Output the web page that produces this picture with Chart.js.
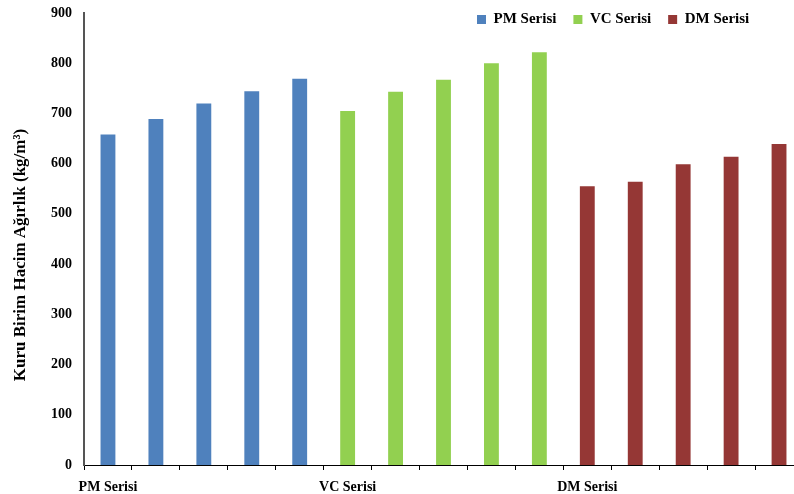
<!DOCTYPE html>
<html>
<head>
<meta charset="utf-8">
<script src="https://cdn.jsdelivr.net/npm/chart.js@4/dist/chart.umd.min.js"></script>
<style>
  html, body { margin: 0; padding: 0; background: #fff; overflow: hidden; }
  #wrap { width: 806px; height: 494px; position: relative; }
</style>
</head>
<body>
<div id="wrap"><canvas id="c" width="806" height="494"></canvas></div>
<script>
// Category axis: one slot per sample, group name under the first of each group
const categories = ['PM Serisi', '', '', '', '', 'VC Serisi', '', '', '', '', 'DM Serisi', '', '', '', ''];
const seriesNames = ['PM Serisi', 'VC Serisi', 'DM Serisi'];
// Dry unit weight values (kg/m³)
const pmValues = [658, 689, 720, 744, 769];
const vcValues = [705, 743, 767, 800, 822];
const dmValues = [555, 564, 599, 614, 639];
const yTicks = [0, 100, 200, 300, 400, 500, 600, 700, 800, 900];
const colors = ['#4F81BD', '#92D050', '#953735'];

const groups = [pmValues, vcValues, dmValues];
let offset = 0;
const datasets = groups.map((vals, gi) => {
  const data = categories.map(() => null);
  vals.forEach((v, i) => { data[offset + i] = v; });
  offset += vals.length;
  return {
    label: seriesNames[gi],
    data,
    backgroundColor: colors[gi],
    borderWidth: 0,
    barPercentage: 0.31,
    categoryPercentage: 1.0
  };
});

const serif = "'Liberation Serif', 'Times New Roman', serif";

// The legend floats over the top of the plot instead of taking layout space,
// and the y title is nudged a little lower than the axis centre.
const layoutTweaks = {
  id: 'layoutTweaks',
  beforeLayout(chart) {
    const lg = chart.legend;
    if (lg && !lg._wrapped) {
      const fit = lg.fit;
      lg.fit = function () {
        fit.call(this);
        this._fullHeight = this.height;
        this.height = 0;
      };
      lg._wrapped = true;
    }
    const ys = chart.scales.y;
    if (ys && !ys._wrapped) {
      const drawTitle = ys.drawTitle;
      ys.drawTitle = function () {
        const t = this.top;
        this.top = t + 32;
        drawTitle.apply(this, arguments);
        this.top = t;
      };
      ys._wrapped = true;
    }
  },
  afterLayout(chart) {
    const lg = chart.legend;
    const w = lg.right - lg.left;
    lg.left = 460;
    lg.right = 460 + w;
    lg.top = -5;
    lg.bottom = -5 + lg._fullHeight;
    lg.height = lg._fullHeight;
  }
};

new Chart(document.getElementById('c'), {
  type: 'bar',
  data: { labels: categories, datasets },
  plugins: [layoutTweaks],
  options: {
    responsive: false,
    animation: false,
    layout: { padding: { left: 0, right: 3, top: 13, bottom: 0 } },
    plugins: {
      legend: {
        position: 'top',
        align: 'start',
        labels: {
          boxWidth: 9,
          boxHeight: 9,
          padding: 17,
          color: '#000',
          font: { family: serif, size: 15, weight: 'bold' }
        }
      },
      tooltip: { enabled: false }
    },
    scales: {
      x: {
        stacked: true,
        afterFit(s) { s.height = 29; },
        grid: {
          offset: true,
          drawOnChartArea: false,
          drawTicks: true,
          tickLength: 5,
          color: '#000'
        },
        border: { display: true, color: '#000', width: 1 },
        ticks: {
          autoSkip: false,
          maxRotation: 0,
          padding: 9,
          color: '#000',
          font: { family: serif, size: 14, weight: 'bold' }
        }
      },
      y: {
        stacked: false,
        min: 0,
        max: 900,
        afterFit(s) { s.width = 84; s.paddingTop = 0; s.paddingBottom = 0; },
        afterBuildTicks(s) { s.ticks = yTicks.map(v => ({ value: v })); },
        grid: { display: false, drawTicks: false },
        border: { display: true, color: '#555', width: 2 },
        ticks: {
          padding: 12,
          color: '#000',
          font: { family: serif, size: 14, weight: 'bold' }
        },
        title: {
          display: true,
          text: 'Kuru Birim Hacim Ağırlık (kg/m³)',
          color: '#000',
          padding: { top: 10, bottom: 0 },
          font: { family: serif, size: 17, weight: 'bold' }
        }
      }
    }
  }
});
</script>
</body>
</html>
